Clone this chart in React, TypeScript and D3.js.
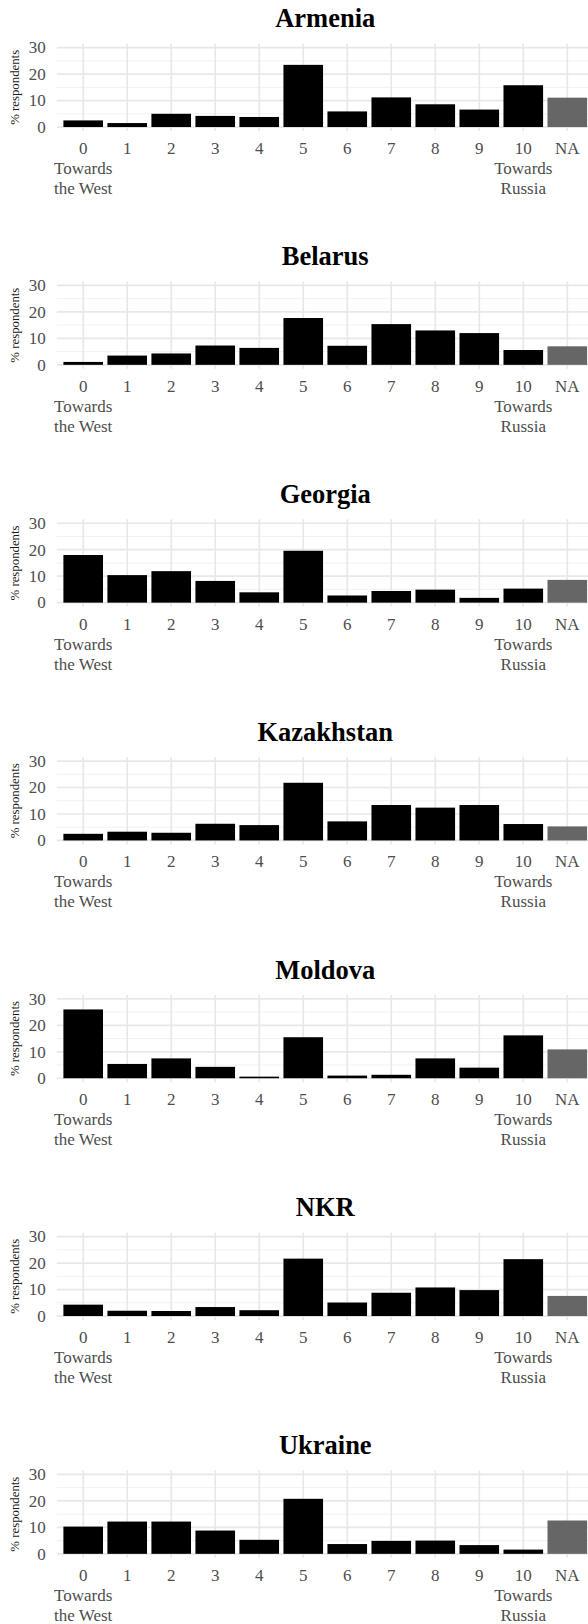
import React, { useEffect, useRef } from 'react';
import * as d3 from 'd3';

const categories = ['0', '1', '2', '3', '4', '5', '6', '7', '8', '9', '10', 'NA'];
const countries = ['Armenia', 'Belarus', 'Georgia', 'Kazakhstan', 'Moldova', 'NKR', 'Ukraine'];

const armenia = [2.5, 1.5, 5.0, 4.2, 3.8, 23.5, 5.9, 11.2, 8.6, 6.6, 15.8, 11.1];
const belarus = [1.1, 3.5, 4.3, 7.3, 6.4, 17.7, 7.2, 15.4, 13.0, 12.0, 5.6, 7.0];
const georgia = [18.0, 10.4, 11.9, 8.2, 3.9, 19.6, 2.7, 4.4, 4.9, 1.8, 5.3, 8.6];
const kazakhstan = [2.5, 3.3, 2.9, 6.3, 5.8, 21.8, 7.2, 13.4, 12.4, 13.4, 6.2, 5.3];
const moldova = [26.0, 5.4, 7.5, 4.3, 0.6, 15.5, 1.0, 1.3, 7.5, 4.0, 16.2, 10.9];
const nkr = [4.3, 2.0, 1.9, 3.4, 2.2, 21.7, 5.1, 8.8, 10.8, 9.8, 21.5, 7.6];
const ukraine = [10.3, 12.2, 12.2, 8.8, 5.3, 20.8, 3.7, 4.9, 5.0, 3.3, 1.6, 12.6];

const seriesList = [armenia, belarus, georgia, kazakhstan, moldova, nkr, ukraine];

const yMajor = [0, 10, 20, 30];
const yMinor = [5, 15, 25];
const tickNotes: Record<string, string[]> = {
  '0': ['Towards', 'the West'],
  '10': ['Towards', 'Russia'],
};

export default function App() {
  const ref = useRef<SVGSVGElement>(null);

  useEffect(() => {
    const width = 588, height = 1624;
    const panelStep = 237.8;
    const left = 56.8, right = 593.7;
    const font = '"Liberation Serif", "Times New Roman", serif';

    const svg = d3.select(ref.current);
    svg.selectAll('*').remove();

    const x = d3.scaleBand()
      .domain(categories)
      .range([left, right])
      .paddingInner(0.1)
      .paddingOuter(0.15);

    countries.forEach((country, i) => {
      const off = i * panelStep;
      const y = d3.scaleLinear()
        .domain([-1.5, 31.5])
        .range([131 + off, 43.7 + off]);
      const g = svg.append('g');
      const top = y(31.5), bottom = y(-1.5);

      // grid
      g.selectAll('.minor')
        .data(yMinor)
        .enter().append('line')
        .attr('x1', left).attr('x2', right)
        .attr('y1', d => y(d)).attr('y2', d => y(d))
        .attr('stroke', '#efefef').attr('stroke-width', 0.9);
      g.selectAll('.major')
        .data(yMajor)
        .enter().append('line')
        .attr('x1', left).attr('x2', right)
        .attr('y1', d => y(d)).attr('y2', d => y(d))
        .attr('stroke', '#e8e8e8').attr('stroke-width', 1.7);
      g.selectAll('.vgrid')
        .data(categories)
        .enter().append('line')
        .attr('x1', d => x(d)! + x.bandwidth() / 2)
        .attr('x2', d => x(d)! + x.bandwidth() / 2)
        .attr('y1', top).attr('y2', bottom)
        .attr('stroke', '#e8e8e8').attr('stroke-width', 1.7);

      // bars
      const vals = seriesList[i];
      g.selectAll('.bar')
        .data(categories)
        .enter().append('rect')
        .attr('x', d => x(d)!)
        .attr('width', x.bandwidth())
        .attr('y', (d, k) => y(vals[k]))
        .attr('height', (d, k) => y(0) - y(vals[k]))
        .attr('fill', d => d === 'NA' ? '#666666' : '#000000');

      // title
      g.append('text')
        .attr('x', (left + right) / 2)
        .attr('y', 27.3 + off)
        .attr('text-anchor', 'middle')
        .attr('font-family', font)
        .attr('font-weight', 'bold')
        .attr('font-size', 26.5)
        .attr('fill', '#000')
        .text(country);

      // y ticks
      g.selectAll('.ytick')
        .data(yMajor)
        .enter().append('text')
        .attr('x', 45.7)
        .attr('y', d => y(d))
        .attr('dy', '0.34em')
        .attr('text-anchor', 'end')
        .attr('font-family', font)
        .attr('font-size', 17)
        .attr('fill', '#4d4d4d')
        .text(d => d);

      // y title
      g.append('text')
        .attr('transform', `translate(15,${(top + bottom) / 2}) rotate(-90)`)
        .attr('dy', '0.35em')
        .attr('text-anchor', 'middle')
        .attr('font-family', font)
        .attr('font-size', 12.8)
        .attr('fill', '#1a1a1a')
        .text('% respondents');

      // x ticks
      categories.forEach(c => {
        const cx = x(c)! + x.bandwidth() / 2;
        const lines = [c].concat(tickNotes[c] || []);
        const t = g.append('text')
          .attr('text-anchor', 'middle')
          .attr('font-family', font)
          .attr('font-size', 17)
          .attr('fill', '#4d4d4d');
        lines.forEach((ln, j) => {
          t.append('tspan')
            .attr('x', cx)
            .attr('y', 154 + off + j * 20)
            .text(ln);
        });
      });
    });

    svg.attr('width', width).attr('height', height);
  }, []);

  return (
    <svg
      ref={ref}
      width={588}
      height={1624}
      style={{ position: 'absolute', left: 0, top: 0, background: '#fff', overflow: 'hidden' }}
    />
  );
}
